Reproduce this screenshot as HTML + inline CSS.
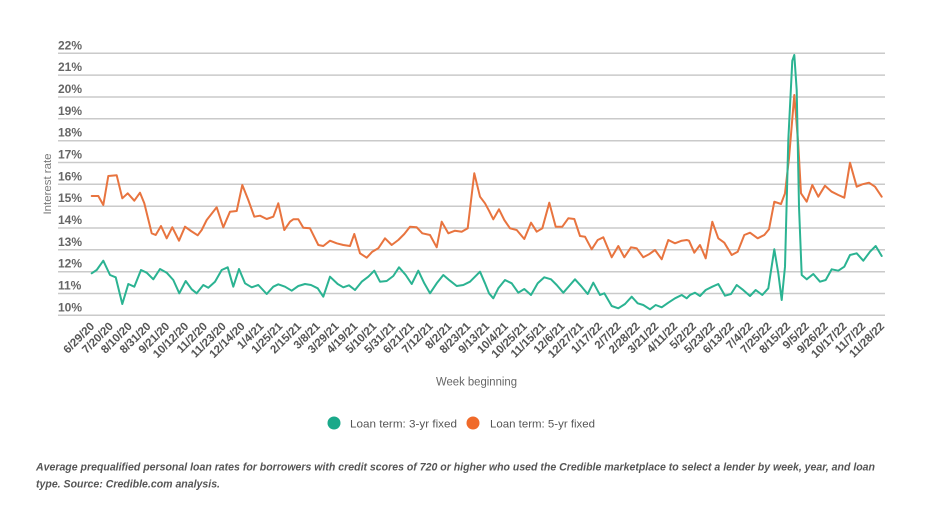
<!DOCTYPE html>
<html>
<head>
<meta charset="utf-8">
<style>
  html,body{margin:0;padding:0;background:#fff;}
  svg{display:block;font-family:"Liberation Sans",sans-serif;}
</style>
</head>
<body>
<svg width="932" height="524" viewBox="0 0 932 524" xmlns="http://www.w3.org/2000/svg">
  <rect width="932" height="524" fill="#fff"/>
  <!-- gridlines -->
  <g stroke="#cacaca" stroke-width="1.5">
    <line x1="58" x2="885" y1="53.3" y2="53.3"/>
    <line x1="58" x2="885" y1="75.1" y2="75.1"/>
    <line x1="58" x2="885" y1="97.0" y2="97.0"/>
    <line x1="58" x2="885" y1="118.8" y2="118.8"/>
    <line x1="58" x2="885" y1="140.7" y2="140.7"/>
    <line x1="58" x2="885" y1="162.5" y2="162.5"/>
    <line x1="58" x2="885" y1="184.3" y2="184.3"/>
    <line x1="58" x2="885" y1="206.2" y2="206.2"/>
    <line x1="58" x2="885" y1="228.0" y2="228.0"/>
    <line x1="58" x2="885" y1="249.8" y2="249.8"/>
    <line x1="58" x2="885" y1="271.7" y2="271.7"/>
    <line x1="58" x2="885" y1="293.5" y2="293.5"/>
    <line x1="58" x2="885" y1="315.3" y2="315.3"/>
  </g>
  <!-- y labels -->
  <g fill="#666" font-size="12" font-weight="bold">
    <text x="58" y="49.3">22%</text>
    <text x="58" y="71.1">21%</text>
    <text x="58" y="93.0">20%</text>
    <text x="58" y="114.8">19%</text>
    <text x="58" y="136.7">18%</text>
    <text x="58" y="158.5">17%</text>
    <text x="58" y="180.3">16%</text>
    <text x="58" y="202.2">15%</text>
    <text x="58" y="224.0">14%</text>
    <text x="58" y="245.8">13%</text>
    <text x="58" y="267.7">12%</text>
    <text x="58" y="289.5">11%</text>
    <text x="58" y="311.3">10%</text>
  </g>
  <text transform="translate(51,184) rotate(-90)" text-anchor="middle" font-size="11" fill="#777" textLength="61" lengthAdjust="spacingAndGlyphs">Interest rate</text>

  <!-- series -->
  <polyline fill="none" stroke="#e8743f" stroke-width="2" stroke-linejoin="round" stroke-linecap="round" points="91.7,196 98.3,196 103.3,205 108.3,176 116.7,175.3 122.3,198.3 127.7,193.3 134.3,200.7 140,192.7 144.3,203.3 151.7,233.3 155.7,235 161,226 166.7,238.3 172.3,227.3 179,240.7 185,226.7 191,231 197.7,235.3 201.7,230 206.7,220 216.7,207.3 223.3,227.3 230,211.7 236.7,211 242.3,185 248.3,200 254.3,216.7 260,215.7 266.7,219 273.3,216.7 278.3,203.3 284.3,230 290,221.7 293.3,219.3 298.3,219.3 303.3,227.7 310,228.3 318.3,245 323.3,246 330,240.7 336.7,243.3 343.3,245 350,246 354.3,234 360,253.3 366.7,257.7 372.3,251.7 378.3,248.3 385,238.3 391.7,245 398.3,240 404.3,234 410,226.7 416.7,227.3 422.3,233.3 430,235 436.7,247.3 441.7,221.7 448.3,233.3 455,230.7 461.7,231.7 467.7,228.3 474.3,173.3 480,196.7 485,203.3 489,210.7 493.3,219.3 499,209.3 504.3,220 510,228.3 516.7,230 524.3,239 531,222.7 536.7,231.7 542.3,228.3 549.3,202.7 555.7,226.7 562.3,226.7 568.3,218.3 574.3,219 580,236 585,236.7 591.7,249.3 597.7,240 603.3,237.3 611.7,257.3 618.3,246 624.3,257.3 631,247.3 636.7,248.3 643.3,257.3 649,254.3 655,250 661.7,259.3 668.3,240 675,243.3 681.7,240.7 686.7,240 689,240.7 694.3,252.7 700,245 705.7,258.3 712.3,221.7 718.3,238.3 724.3,242.7 731.7,255 737.7,251.7 744.3,235 750,232.7 757.7,238.3 764.3,235 769,229.3 774.3,201.7 781,204 785,193.3 789,158.3 794.3,95 798.3,145 801,193.3 806.7,201.7 812.3,185 818.3,196.7 825,185.7 831.7,191.7 838.3,195 844.3,197.7 850,162.7 856.7,186.7 862.3,184.3 869,182.7 875,186.7 881.7,196.7"/>
  <polyline fill="none" stroke="#2bb392" stroke-width="2" stroke-linejoin="round" stroke-linecap="round" points="91.7,273.3 96.7,270 103.3,260.7 110,275 115.7,277.3 122.3,304 128.3,284 134.3,286.7 141,270 146.7,272.7 153.3,279.3 160,269 166.7,272.7 173.3,280 179.3,293.3 185.7,281 191.7,289.3 196.7,293.3 203.3,285 208.3,287.7 215,281.7 221.7,270 227.7,267.3 233.3,286.7 239,269 245,283.3 251.7,287.3 258.3,285 266.7,294 273.3,286.7 278.3,284.3 285,286.7 291.7,290.7 298.3,286 305,284 311,285 317.7,288.3 323.3,296.7 330,276.7 337.7,284 343.3,287.3 349,285.3 355,290 361.7,281.7 368.3,276.7 374.3,270.7 380,281.7 386.7,281 393.3,276 399,267.3 405.7,275 411.7,284 418.3,270.7 424.3,283.3 430,293.3 436.7,283.3 443.3,275 450,280.7 456.7,286 463.3,285 470,281.7 480,271.7 485,283.3 489,293.3 493.3,298.3 498.3,288.3 505,280 511.7,283.3 518.3,292.7 524.3,289 531,295 537.7,283.3 544.3,277.3 551,279.3 556.7,285 563.3,292.7 570,285 575,279.3 581.7,286.7 587.7,294 593.3,282.7 600,295 604.3,293.3 611.7,306 618.3,308.3 625,304 631.7,296.7 637.7,303.3 643.3,305 650,309.3 655.7,305 661.7,307.3 668.3,302.7 675,298.3 681.7,295 686.7,298.3 690,295 695,292.7 700,296 705.7,290 712.3,286.7 718.3,284 725,295.7 731,294 736.7,285 742.3,289.3 750,296 755.7,290 762.3,295 768.3,288.3 774.3,249.3 778.3,273.3 781.7,300 785,266.7 788.3,140 792.3,60.7 794.3,55 796.7,90 799,206.7 801.7,275 806.7,279.3 813.3,274 820,281.7 825.7,280 831.7,269.3 838.3,270.7 844.3,266.7 850,255 856.7,253.3 863.3,260.7 870,251.7 875.7,246 881.7,256"/>

  <!-- x labels -->
  <g fill="#555" font-size="11.5" font-weight="bold" text-anchor="end">
    <text transform="translate(95,327) rotate(-45)">6/29/20</text>
    <text transform="translate(113.8,327) rotate(-45)">7/20/20</text>
    <text transform="translate(132.6,327) rotate(-45)">8/10/20</text>
    <text transform="translate(151.4,327) rotate(-45)">8/31/20</text>
    <text transform="translate(170.2,327) rotate(-45)">9/21/20</text>
    <text transform="translate(189.1,327) rotate(-45)">10/12/20</text>
    <text transform="translate(207.9,327) rotate(-45)">11/2/20</text>
    <text transform="translate(226.7,327) rotate(-45)">11/23/20</text>
    <text transform="translate(245.5,327) rotate(-45)">12/14/20</text>
    <text transform="translate(264.3,327) rotate(-45)">1/4/21</text>
    <text transform="translate(283.1,327) rotate(-45)">1/25/21</text>
    <text transform="translate(301.9,327) rotate(-45)">2/15/21</text>
    <text transform="translate(320.7,327) rotate(-45)">3/8/21</text>
    <text transform="translate(339.5,327) rotate(-45)">3/29/21</text>
    <text transform="translate(358.3,327) rotate(-45)">4/19/21</text>
    <text transform="translate(377.2,327) rotate(-45)">5/10/21</text>
    <text transform="translate(396,327) rotate(-45)">5/31/21</text>
    <text transform="translate(414.8,327) rotate(-45)">6/21/21</text>
    <text transform="translate(433.6,327) rotate(-45)">7/12/21</text>
    <text transform="translate(452.4,327) rotate(-45)">8/2/21</text>
    <text transform="translate(471.2,327) rotate(-45)">8/23/21</text>
    <text transform="translate(490,327) rotate(-45)">9/13/21</text>
    <text transform="translate(508.8,327) rotate(-45)">10/4/21</text>
    <text transform="translate(527.6,327) rotate(-45)">10/25/21</text>
    <text transform="translate(546.4,327) rotate(-45)">11/15/21</text>
    <text transform="translate(565.3,327) rotate(-45)">12/6/21</text>
    <text transform="translate(584.1,327) rotate(-45)">12/27/21</text>
    <text transform="translate(602.9,327) rotate(-45)">1/17/22</text>
    <text transform="translate(621.7,327) rotate(-45)">2/7/22</text>
    <text transform="translate(640.5,327) rotate(-45)">2/28/22</text>
    <text transform="translate(659.3,327) rotate(-45)">3/21/22</text>
    <text transform="translate(678.1,327) rotate(-45)">4/11/22</text>
    <text transform="translate(696.9,327) rotate(-45)">5/2/22</text>
    <text transform="translate(715.7,327) rotate(-45)">5/23/22</text>
    <text transform="translate(734.5,327) rotate(-45)">6/13/22</text>
    <text transform="translate(753.4,327) rotate(-45)">7/4/22</text>
    <text transform="translate(772.2,327) rotate(-45)">7/25/22</text>
    <text transform="translate(791,327) rotate(-45)">8/15/22</text>
    <text transform="translate(809.8,327) rotate(-45)">9/5/22</text>
    <text transform="translate(828.6,327) rotate(-45)">9/26/22</text>
    <text transform="translate(847.4,327) rotate(-45)">10/17/22</text>
    <text transform="translate(866.2,327) rotate(-45)">11/7/22</text>
    <text transform="translate(885,327) rotate(-45)">11/28/22</text>
  </g>

  <text x="436" y="385.5" font-size="11.5" fill="#666" textLength="81" lengthAdjust="spacingAndGlyphs">Week beginning</text>

  <!-- legend -->
  <circle cx="334" cy="423" r="6.5" fill="#1aa98a"/>
  <text x="350" y="427.5" font-size="11" fill="#555" textLength="107" lengthAdjust="spacingAndGlyphs">Loan term: 3-yr fixed</text>
  <circle cx="473" cy="423" r="6.5" fill="#f06a2a"/>
  <text x="490" y="427.5" font-size="11" fill="#555" textLength="105" lengthAdjust="spacingAndGlyphs">Loan term: 5-yr fixed</text>

  <!-- caption -->
  <g font-size="11" font-style="italic" font-weight="bold" fill="#555">
    <text x="36" y="470.5" textLength="839" lengthAdjust="spacingAndGlyphs">Average prequalified personal loan rates for borrowers with credit scores of 720 or higher who used the Credible marketplace to select a lender by week, year, and loan</text>
    <text x="36" y="487.5" textLength="184" lengthAdjust="spacingAndGlyphs">type. Source: Credible.com analysis.</text>
  </g>
</svg>
</body>
</html>
